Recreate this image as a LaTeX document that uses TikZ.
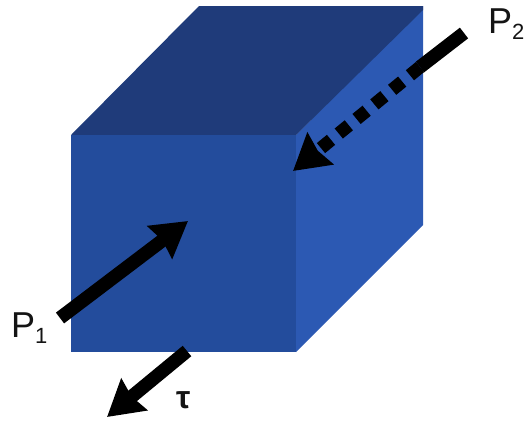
\documentclass[tikz,border=0pt]{standalone}
\usepackage{fontspec}
\setmainfont{Liberation Sans}
\usetikzlibrary{arrows.meta}
\definecolor{cubefront}{HTML}{234C9C}
\definecolor{cubetop}{HTML}{1F3B7A}
\definecolor{cubeside}{HTML}{2C59B3}
\tikzset{
  face/.style={draw=none},
  force/.style={line width=13.5pt,-{Stealth[length=35pt,width=40pt,inset=3pt]},black},
  forceplain/.style={line width=13.5pt,black},
  forcedots/.style={line width=13pt,black,dash pattern=on 13pt off 10pt,-{Stealth[length=35pt,width=40pt,inset=3pt]}},
  lbl/.style={inner sep=0pt,anchor=base west,text=black!92}
}
\newcommand{\Plab}[1]{\fontsize{36}{36}\selectfont P\raisebox{-6pt}{\fontsize{22}{22}\selectfont #1}}
\begin{document}
\begin{tikzpicture}[x=1pt,y=-1pt]
\useasboundingbox (0,0) rectangle (529,421);
\fill[cubeside,face] (296,135) -- (423,6) -- (423,225) -- (296,352) -- cycle;
\fill[cubetop,face] (71,135) -- (199,6) -- (423,6) -- (423,10) -- (296,135) -- cycle;
\fill[cubefront,face] (71,135) rectangle (296,352);
\coordinate (p1s) at (60,318);
\coordinate (p1e) at (188,221);
\coordinate (ts) at (187,351);
\coordinate (te) at (107,417);
\coordinate (p2s) at (464,33);
\coordinate (p2m) at (420,67);
\coordinate (p2e) at (293,171);
\draw[force] (p1s) -- (p1e);
\draw[force] (ts) -- (te);
\draw[forceplain] (p2s) -- (p2m);
\draw[forcedots] (p2m) -- (p2e);
\node[lbl] (lp2) at (488,33) {\Plab{2}};
\node[lbl] (lp1) at (11,337) {\Plab{1}};
\node[lbl] (lt) at (176,408) {\fontsize{32}{32}\selectfont\bfseries τ};
\end{tikzpicture}
\end{document}
